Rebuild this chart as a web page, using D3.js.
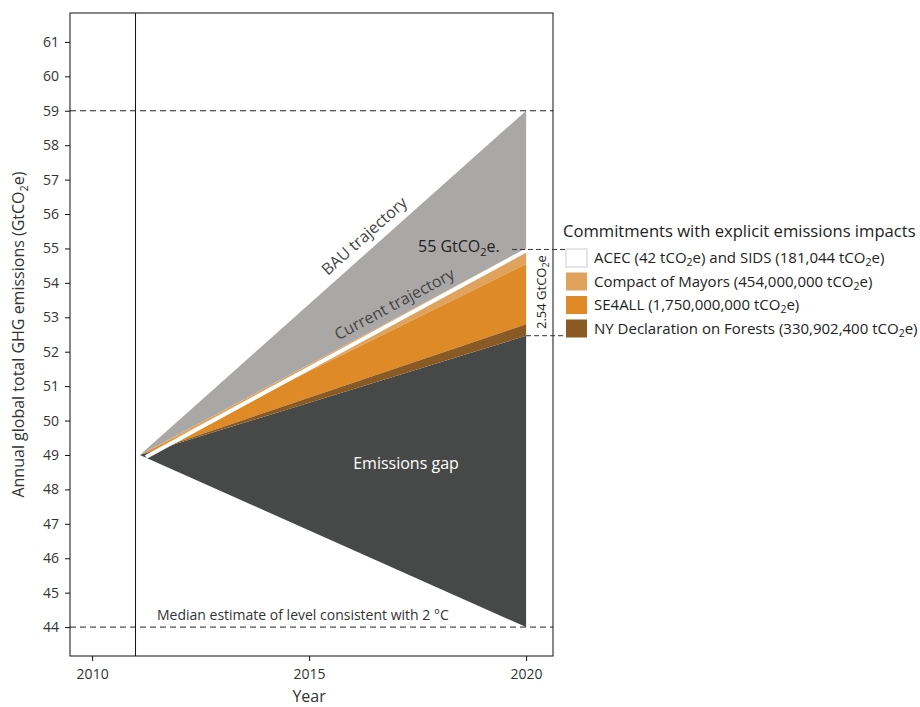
<!DOCTYPE html>
<html>
<head>
<meta charset="utf-8">
<script src="https://cdn.jsdelivr.net/npm/d3@7"></script>
<style>
  body { margin: 0; background: #fff; }
  text { font-family: "Open Sans", "Noto Sans", sans-serif; fill: #333; }
</style>
</head>
<body>
<div id="chart"></div>
<script>
// data
var years = [2011.1, 2020];
var bau = [49, 59];
var current = [49, 55];
var gapLow = [49, 44];
var target = 44;
var bauLevel = 59;
var commitNames = ["ACEC", "Compact of Mayors", "SE4ALL", "NY Declaration on Forests"];
var commitValues = [0.000181, 0.454, 1.75, 0.331]; // GtCO2e in 2020
var commitColors = ["#ffffff", "#e0a35e", "#de8a27", "#8a5a24"];
var legendLabels = [
  ["ACEC (42 tCO", "2", "e) and SIDS (181,044 tCO", "2", "e)"],
  ["Compact of Mayors (454,000,000 tCO", "2", "e)"],
  ["SE4ALL (1,750,000,000 tCO", "2", "e)"],
  ["NY Declaration on Forests (330,902,400 tCO", "2", "e)"]
];
var yTicks = d3.range(44, 62);
var xTicks = [2010, 2015, 2020];

var W = 920, H = 707;
var margin = {top: 13, left: 70, right: 367, bottom: 51};

var svg = d3.select("#chart").append("svg")
    .attr("width", W)
    .attr("height", H);

var x = d3.scaleLinear().domain([2009.49, 2020.62]).range([margin.left, W - margin.right]);
var y = d3.scaleLinear().domain([43.16, 61.84]).range([H - margin.bottom, margin.top]);

// helper for text with subscripts (shift in px so it works with mixed sizes)
function subText(sel, parts, subSize, shift) {
  parts.forEach(function(p, i) {
    var t = sel.append("tspan").text(p);
    if (i % 2 == 1) {
      t.attr("dy", shift).style("font-size", subSize);
    } else if (i > 0) {
      t.attr("dy", -shift);
    }
  });
}

// emissions stack below current trajectory
var stack = [];
var base = current.slice();
commitValues.forEach(function(v, i) {
  var top = base.slice();
  var bottom = base.map(function(b, j) { return j == 0 ? b : b - v; });
  stack.push({name: commitNames[i], color: commitColors[i], top: top, bottom: bottom});
  base = bottom;
});

var area = d3.area()
    .x(function(d) { return x(d.year); })
    .y0(function(d) { return y(d.lo); })
    .y1(function(d) { return y(d.hi); });

function band(lo, hi) {
  return years.map(function(yr, i) { return {year: yr, lo: lo[i], hi: hi[i]}; });
}

// BAU wedge
svg.append("path")
    .attr("d", area(band(current, bau)))
    .attr("fill", "#a9a8a6");

// emissions gap
svg.append("path")
    .attr("d", area(band(gapLow, base)))
    .attr("fill", "#474948");

svg.selectAll(".commit")
    .data(stack)
    .enter()
    .append("path")
    .attr("class", "commit")
    .attr("d", function(d) { return area(band(d.bottom, d.top)); })
    .attr("fill", function(d) { return d.color; });

// white gap along the current trajectory
svg.append("line")
    .attr("x1", x(years[0]) + 6).attr("y1", y(current[0]))
    .attr("x2", x(years[1])).attr("y2", y(current[1]))
    .attr("transform", "translate(0,2)")
    .attr("stroke", "#fff")
    .attr("stroke-width", 4);

// dashed reference lines
[bauLevel, target].forEach(function(v) {
  svg.append("line")
      .attr("x1", margin.left).attr("x2", W - margin.right)
      .attr("y1", y(v)).attr("y2", y(v))
      .attr("stroke", "#222")
      .attr("stroke-dasharray", "6,4");
});

// 2011 vertical line
svg.append("line")
    .attr("x1", x(2011)).attr("x2", x(2011))
    .attr("y1", margin.top).attr("y2", H - margin.bottom)
    .attr("stroke", "#111");

// frame
svg.append("rect")
    .attr("x", margin.left).attr("y", margin.top)
    .attr("width", W - margin.right - margin.left)
    .attr("height", H - margin.bottom - margin.top)
    .attr("fill", "none")
    .attr("stroke", "#111");

// axes
var yAxis = svg.append("g")
    .attr("transform", "translate(" + margin.left + ",0)")
    .call(d3.axisLeft(y).tickValues(yTicks).tickSize(5).tickPadding(6));
var xAxis = svg.append("g")
    .attr("transform", "translate(0," + (H - margin.bottom) + ")")
    .call(d3.axisBottom(x).tickValues(xTicks).tickFormat(d3.format("d")).tickSize(5).tickPadding(8));
[xAxis, yAxis].forEach(function(a) {
  a.select(".domain").remove();
  a.selectAll("line").attr("stroke", "#111");
  a.selectAll("text").style("font-size", "14px").style("fill", "#333");
});

svg.append("text")
    .attr("x", x(2015)).attr("y", 702)
    .attr("text-anchor", "middle")
    .style("font-size", "16px")
    .text("Year");

var yl = svg.append("text")
    .attr("transform", "translate(24," + ((margin.top + H - margin.bottom) / 2) + ") rotate(-90)")
    .attr("text-anchor", "middle")
    .style("font-size", "16px");
subText(yl, ["Annual global total GHG emissions (GtCO", "2", "e)"], "11px", 4);

// in-chart labels
function angle(a) {
  return Math.atan2(y(a[1]) - y(a[0]), x(years[1]) - x(years[0])) * 180 / Math.PI;
}
svg.append("text")
    .attr("transform", "translate(368,240) rotate(" + angle(bau) + ")")
    .attr("text-anchor", "middle")
    .style("font-size", "16px").style("fill", "#444")
    .text("BAU trajectory");
svg.append("text")
    .attr("transform", "translate(397,309) rotate(" + angle(current) + ")")
    .attr("text-anchor", "middle")
    .style("font-size", "16px").style("fill", "#444")
    .text("Current trajectory");
svg.append("text")
    .attr("x", 406).attr("y", 469)
    .attr("text-anchor", "middle")
    .style("font-size", "16px").style("fill", "#fff")
    .text("Emissions gap");
svg.append("text")
    .attr("x", 157).attr("y", y(target) - 7)
    .style("font-size", "14px").style("fill", "#333")
    .text("Median estimate of level consistent with 2 \u00B0C");

// 2020 bracket
var lab55 = svg.append("text")
    .attr("x", 418).attr("y", y(current[1]) + 4)
    .style("font-size", "16px").style("fill", "#222");
subText(lab55, ["55 GtCO", "2", "e."], "11px", 4);
svg.append("line")
    .attr("x1", 512).attr("x2", 567)
    .attr("y1", y(current[1]) + 1).attr("y2", y(current[1]) + 1)
    .attr("stroke", "#333").attr("stroke-dasharray", "5,3");
svg.append("line")
    .attr("x1", x(2020)).attr("x2", 567)
    .attr("y1", y(base[1])).attr("y2", y(base[1]))
    .attr("stroke", "#333").attr("stroke-dasharray", "5,3");
var gapLab = svg.append("text")
    .attr("transform", "translate(546," + ((y(current[1]) + y(base[1])) / 2) + ") rotate(-90)")
    .attr("text-anchor", "middle")
    .style("font-size", "13px").style("fill", "#222");
subText(gapLab, [d3.format(".2f")(current[1] - base[1]) + " GtCO", "2", "e"], "9px", 3);

// legend
svg.append("text")
    .attr("x", 563).attr("y", 237)
    .style("font-size", "16.6px").style("fill", "#222")
    .text("Commitments with explicit emissions impacts");
var leg = svg.selectAll(".leg")
    .data(commitNames)
    .enter()
    .append("g")
    .attr("class", "leg")
    .attr("transform", function(d, i) { return "translate(566," + (249 + i * 23.5) + ")"; });
leg.append("rect")
    .attr("width", 21).attr("height", 18)
    .attr("fill", function(d, i) { return commitColors[i]; })
    .attr("stroke", function(d, i) { return i == 0 ? "#ccc" : "none"; });
leg.append("text")
    .attr("x", 28).attr("y", 14)
    .style("font-size", "15px").style("fill", "#222")
    .each(function(d, i) { subText(d3.select(this), legendLabels[i], "10.5px", 3); });
</script>
</body>
</html>
